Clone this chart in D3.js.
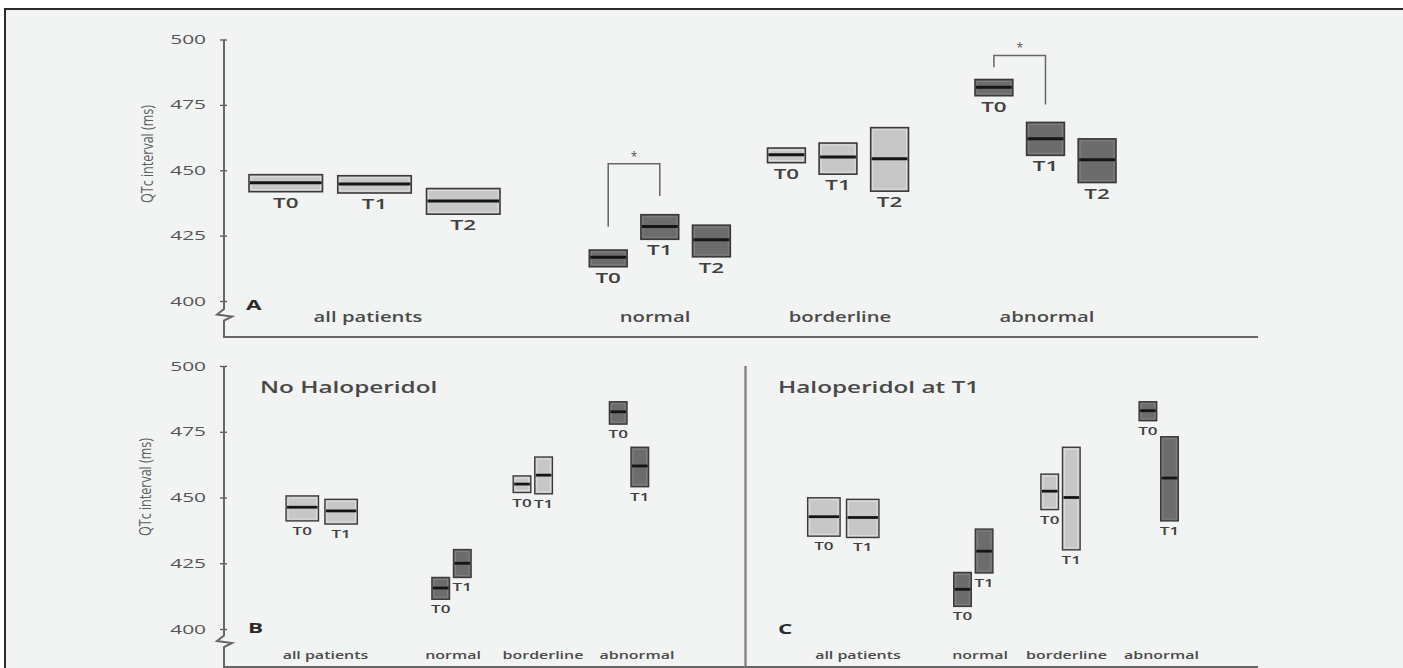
<!DOCTYPE html>
<html>
<head>
<meta charset="utf-8">
<script src="https://cdn.jsdelivr.net/npm/d3@7"></script>
<style>
  body { margin: 0; background: #fff; }
  svg text { font-family: "Open Sans", "DejaVu Sans", sans-serif; }
</style>
</head>
<body>
<div id="chart"></div>
<script>
// categories, timepoints, ticks
var groups = ['all patients', 'normal', 'borderline', 'abnormal'];
var timesA = ['T0', 'T1', 'T2'];
var timesBC = ['T0', 'T1'];
var yTicks = [400, 425, 450, 475, 500];
var panelTitles = ['No Haloperidol', 'Haloperidol at T1'];
var darkGroups = ['normal', 'abnormal'];

// QTc interval (ms): lower edge, median, upper edge of each box, [group][timepoint]
var aLow  = [[441.8, 441.3, 433.2], [413.1, 423.6, 416.9], [452.9, 448.5, 442.0], [478.5, 455.7, 445.3]];
var aMed  = [[445.2, 444.7, 438.2], [416.7, 428.5, 423.4], [455.9, 455.1, 454.4], [481.7, 462.0, 454.0]];
var aHigh = [[448.3, 447.9, 443.0], [419.5, 433.0, 429.0], [458.5, 460.4, 466.3], [484.7, 468.3, 462.0]];

var bLow  = [[441.1, 439.9], [411.3, 419.6], [451.9, 451.4], [477.9, 454.1]];
var bMed  = [[446.3, 444.9], [415.6, 425.0], [455.1, 458.5], [482.6, 462.0]];
var bHigh = [[450.6, 449.3], [419.6, 430.2], [458.2, 465.4], [486.4, 469.1]];

var cLow  = [[435.3, 434.8], [408.6, 421.3], [445.4, 430.1], [479.2, 441.1]];
var cMed  = [[442.7, 442.4], [415.1, 429.6], [452.4, 450.0], [483.0, 457.4]];
var cHigh = [[449.9, 449.3], [421.5, 438.0], [458.9, 469.1], [486.4, 473.1]];

// significance brackets in panel A (T0 vs T1), in ms
var sigGroups = ['normal', 'abnormal'];
var sigTop = [452.5, 493.9];
var sigLeftEnd = [428.4, 489.4];
var sigRightEnd = [440.2, 475.1];

var W = 1403, H = 668;

var svg = d3.select('#chart').append('svg')
    .attr('width', W)
    .attr('height', H);

// figure frame
svg.append('rect')
    .attr('x', 5).attr('y', 9)
    .attr('width', W - 5).attr('height', H - 9)
    .attr('fill', '#f2f3f3');
svg.append('path')
    .attr('d', 'M5,' + H + 'V9H' + W)
    .attr('fill', 'none')
    .attr('stroke', '#2b2b2b')
    .attr('stroke-width', 2);

// the source figure is stretched sideways, so text is widened to match
var widen = function(sel, k) {
    sel.each(function() {
        var len = this.getComputedTextLength();
        d3.select(this).attr('textLength', len * k).attr('lengthAdjust', 'spacingAndGlyphs');
    });
};

var yTop = d3.scaleLinear().domain([400, 500]).range([301, 39.5]);
var yBot = d3.scaleLinear().domain([400, 500]).range([629, 366]);

var panels = [
    { letter: 'A', times: timesA, low: aLow, med: aMed, high: aHigh, y: yTop,
      centers: [374.5, 659.8, 838, 1045.5], labelX: [368, 655, 840, 1047],
      spans: [251, 141], pads: [0.172, 0.267],
      catY: 322, catSize: 13.5, catK: 1.5, tSize: 14, tK: 1.6, tOff: 16,
      medW: 3, boxStroke: 1.6, letterX: 246, letterY: 310 },
    { letter: 'B', times: timesBC, low: bLow, med: bMed, high: bHigh, y: yBot,
      centers: [321.7, 451.5, 532.8, 629], labelX: [325.5, 453, 543, 637],
      spans: [71.3, 39.2], pads: [0.165, 0.185],
      catY: 659, catSize: 10.5, catK: 1.52, tSize: 10, tK: 1.7, tOff: 14,
      medW: 2.8, boxStroke: 1.4, letterX: 248, letterY: 633,
      title: panelTitles[0], titleX: 260 },
    { letter: 'C', times: timesBC, low: cLow, med: cMed, high: cHigh, y: yBot,
      centers: [843.3, 973.3, 1060.5, 1158.7], labelX: [858, 980, 1066.5, 1161.5],
      spans: [71.3, 39.2], pads: [0.165, 0.185],
      catY: 659, catSize: 10.5, catK: 1.52, tSize: 10, tK: 1.7, tOff: 14,
      medW: 2.8, boxStroke: 1.4, letterX: 778, letterY: 634,
      title: panelTitles[1], titleX: 778 }
];

var groupScale = function(p, gi) {
    var wide = gi === 0;
    var span = wide ? p.spans[0] : p.spans[1];
    return d3.scaleBand()
        .domain(p.times)
        .range([p.centers[gi] - span / 2, p.centers[gi] + span / 2])
        .paddingInner(wide ? p.pads[0] : p.pads[1]);
};

// y axes with the broken-axis mark and the baseline running right
var drawAxis = function(y, x, breakY, bottomY, titleX, titleY) {
    var ax = svg.append('g')
        .attr('transform', 'translate(' + x + ',0)')
        .call(d3.axisLeft(y).tickValues(yTicks).tickSize(4).tickPadding(14));
    ax.attr('font-family', null).attr('font-size', null);
    ax.select('.domain').remove();
    ax.selectAll('.tick line').attr('x1', 3).attr('stroke', '#555').attr('stroke-width', 1.3);
    ax.selectAll('.tick text')
        .attr('font-size', 12.5)
        .attr('fill', '#555');
    widen(ax.selectAll('.tick text'), 1.67);

    svg.append('path')
        .attr('d', d3.line()([
            [x, y(500)], [x, breakY - 5.5], [x - 7, breakY], [x + 8, breakY + 2],
            [x, breakY + 6], [x, bottomY], [1258, bottomY]
        ]))
        .attr('fill', 'none')
        .attr('stroke', '#666')
        .attr('stroke-width', 2);

    svg.append('text')
        .attr('transform', 'translate(' + titleX + ',' + titleY + ') rotate(-90)')
        .attr('text-anchor', 'middle')
        .attr('font-size', 17)
        .attr('fill', '#5e5e5e')
        .attr('textLength', 98)
        .attr('lengthAdjust', 'spacingAndGlyphs')
        .text('QTc interval (ms)');
};

drawAxis(yTop, 224, 314.5, 337, 153, 154);
drawAxis(yBot, 224, 641, 667, 151, 487);

// divider between panels B and C
svg.append('line')
    .attr('x1', 745.5).attr('x2', 745.5)
    .attr('y1', 366).attr('y2', 667)
    .attr('stroke', '#7a7a7a')
    .attr('stroke-width', 2.2);

panels.forEach(function(p) {
    var g = svg.append('g');

    groups.forEach(function(grp, gi) {
        var x = groupScale(p, gi);
        var bw = x.bandwidth();
        var dark = darkGroups.indexOf(grp) >= 0;
        var rows = p.times.map(function(t, ti) {
            return { t: t, lo: p.low[gi][ti], md: p.med[gi][ti], hi: p.high[gi][ti] };
        });

        var box = g.selectAll(null).data(rows).enter().append('g');
        box.append('rect')
            .attr('x', d => x(d.t))
            .attr('y', d => p.y(d.hi))
            .attr('width', bw)
            .attr('height', d => p.y(d.lo) - p.y(d.hi))
            .attr('fill', dark ? '#6c6c6c' : '#c7c7c7')
            .attr('stroke', '#3a3a3a')
            .attr('stroke-width', p.boxStroke);
        box.append('rect')
            .attr('x', d => x(d.t) + 2)
            .attr('y', d => p.y(d.hi) + 2)
            .attr('width', bw - 4)
            .attr('height', d => Math.max(0, p.y(d.lo) - p.y(d.hi) - 4))
            .attr('fill', 'none')
            .attr('stroke', dark ? '#828282' : '#dedede')
            .attr('stroke-width', 1);
        box.append('line')
            .attr('x1', d => x(d.t) + 1)
            .attr('x2', d => x(d.t) + bw - 1)
            .attr('y1', d => p.y(d.md))
            .attr('y2', d => p.y(d.md))
            .attr('stroke', '#151515')
            .attr('stroke-width', p.medW);
        var tl = box.append('text')
            .attr('x', d => x(d.t) + bw / 2)
            .attr('y', d => p.y(d.lo) + p.tOff)
            .attr('text-anchor', 'middle')
            .attr('font-size', p.tSize)
            .attr('font-weight', 600)
            .attr('fill', '#404040')
            .text(d => d.t);
        widen(tl, p.tK);

        var cat = g.append('text')
            .attr('x', p.labelX[gi])
            .attr('y', p.catY)
            .attr('text-anchor', 'middle')
            .attr('font-size', p.catSize)
            .attr('font-weight', 600)
            .attr('fill', '#4a4a4a')
            .text(grp);
        widen(cat, p.catK);
    });

    var letter = g.append('text')
        .attr('x', p.letterX)
        .attr('y', p.letterY)
        .attr('font-size', 15)
        .attr('font-weight', 700)
        .attr('fill', '#2b2b2b')
        .text(p.letter);
    widen(letter, 1.5);

    if (p.title) {
        var ttl = g.append('text')
            .attr('x', p.titleX)
            .attr('y', 392.7)
            .attr('font-size', 17)
            .attr('font-weight', 600)
            .attr('fill', '#484848')
            .text(p.title);
        widen(ttl, 1.43);
    }
});

// significance brackets, panel A
sigGroups.forEach(function(grp, i) {
    var p = panels[0];
    var x = groupScale(p, groups.indexOf(grp));
    var x1 = x('T0') + x.bandwidth() / 2;
    var x2 = x('T1') + x.bandwidth() / 2;
    svg.append('path')
        .attr('d', 'M' + x1 + ',' + yTop(sigLeftEnd[i]) + 'V' + yTop(sigTop[i]) +
                   'H' + x2 + 'V' + yTop(sigRightEnd[i]))
        .attr('fill', 'none')
        .attr('stroke', '#666')
        .attr('stroke-width', 1.5);
    svg.append('text')
        .attr('x', (x1 + x2) / 2)
        .attr('y', yTop(sigTop[i]) - 3)
        .attr('text-anchor', 'middle')
        .attr('font-size', 12)
        .attr('fill', '#555')
        .text('*');
});
</script>
</body>
</html>
